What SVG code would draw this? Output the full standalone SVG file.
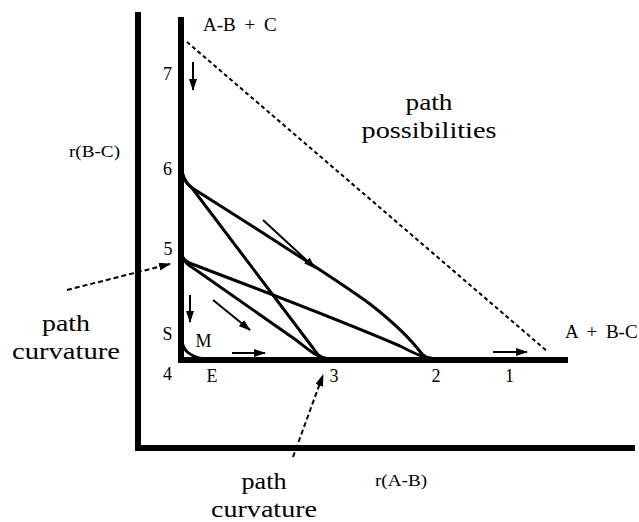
<svg xmlns="http://www.w3.org/2000/svg" width="639" height="522" viewBox="0 0 639 522">
<defs>
<style>
.ax{fill:none;stroke:#000;stroke-width:6;stroke-linejoin:miter;stroke-linecap:square}
.cv{fill:none;stroke:#000;stroke-width:3;stroke-linejoin:round;stroke-linecap:round}
.ar{fill:none;stroke:#000;stroke-width:2}
.da{fill:none;stroke:#000;stroke-width:2;stroke-dasharray:5 3}
.dd{fill:none;stroke:#000;stroke-width:2;stroke-dasharray:4 3}
.t{font-family:'Liberation Serif','DejaVu Serif',serif;fill:#000}
.n{font-size:18px;text-anchor:middle}
.big{font-size:24px;text-anchor:middle}
.sp{font-size:19px;word-spacing:4px}
.axl{font-size:16px}
</style>
<marker id="ah" viewBox="0 0 12 8" refX="11" refY="4" markerWidth="12" markerHeight="8" markerUnits="userSpaceOnUse" orient="auto">
<path d="M0,0 L12,4 L0,8 z" fill="#000"/>
</marker>
</defs>
<rect width="639" height="522" fill="#fff"/>
<g id="axes">
<path class="ax" d="M138,15 L138,448 L632,448"/>
<path class="ax" d="M181,20 L181,360 L565,360"/>
</g>
<g id="connectors">
<path class="dd" d="M187,42 L548,352"/>
<path class="cv" d="M181,166 C182,180 188,186 197,191 L263,233 C300,257 340,282 370,304 C393,322 410,338 422,354 C427,359 434,359 442,359"/>
<path class="cv" d="M181,252 C182,259 186,262 192,264 C260,290 330,316 400,346 C412,352 420,357 436,359"/>
<path class="cv" d="M181,166 C183,178 186,183 192,188 L313,348 C317,354 320,358 328,359"/>
<path class="cv" d="M181,252 C183,262 188,265 196,270 L296,340 C308,349 314,356 328,359"/>
<path class="cv" d="M181,338 C183,351 189,356 204,359"/>
<path class="ar" marker-end="url(#ah)" d="M193,62 L193,90"/>
<path class="ar" marker-end="url(#ah)" d="M263,220 L315,268"/>
<path class="ar" marker-end="url(#ah)" d="M190,295 L190,322"/>
<path class="ar" marker-end="url(#ah)" d="M213,300 L250,330"/>
<path class="ar" marker-end="url(#ah)" d="M232,353 L265,353"/>
<path class="ar" marker-end="url(#ah)" d="M493,352 L527,352"/>
<path class="da" marker-end="url(#ah)" d="M67,290 L170,264"/>
<path class="da" marker-end="url(#ah)" d="M293,457 L323,375"/>
</g>
<g id="labels" font-family="'Liberation Serif', 'DejaVu Serif', serif">
<text class="t sp" x="203" y="31">A-B + C</text>
<text class="t sp" x="565" y="338">A + B-C</text>
<text class="t big" x="429" y="110" textLength="47" lengthAdjust="spacingAndGlyphs">path</text>
<text class="t big" x="429" y="138" textLength="135" lengthAdjust="spacingAndGlyphs">possibilities</text>
<text class="t big" x="66" y="331" textLength="48" lengthAdjust="spacingAndGlyphs">path</text>
<text class="t big" x="66" y="359" textLength="108" lengthAdjust="spacingAndGlyphs">curvature</text>
<text class="t big" x="264" y="489" textLength="45" lengthAdjust="spacingAndGlyphs">path</text>
<text class="t big" x="264" y="517" textLength="106" lengthAdjust="spacingAndGlyphs">curvature</text>
<text class="t axl" x="69" y="157" textLength="51" lengthAdjust="spacingAndGlyphs">r(B-C)</text>
<text class="t axl" x="375" y="486" textLength="52" lengthAdjust="spacingAndGlyphs">r(A-B)</text>
<text class="t n" x="167.5" y="80">7</text>
<text class="t n" x="167.5" y="175">6</text>
<text class="t n" x="168" y="255">5</text>
<text class="t n" x="167.5" y="340">S</text>
<text class="t n" x="203.5" y="347">M</text>
<text class="t n" x="167.5" y="380">4</text>
<text class="t n" x="212" y="382">E</text>
<text class="t n" x="334" y="382">3</text>
<text class="t n" x="436" y="382">2</text>
<text class="t n" x="509.5" y="382">1</text>
</g>
</svg>
